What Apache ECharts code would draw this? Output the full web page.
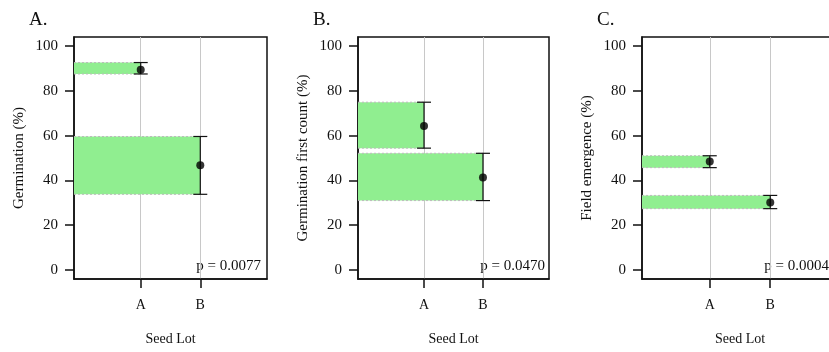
<!DOCTYPE html>
<html>
<head>
<meta charset="utf-8">
<script src="https://cdn.jsdelivr.net/npm/echarts@6/dist/echarts.min.js"></script>
<style>
  html, body { margin: 0; padding: 0; background: #fff; }
  #main { width: 829px; height: 352px; }
</style>
</head>
<body>
<div id="main"></div>
<script>
// seed lots and their x positions
const seedLots = ['A', 'B'];
const lotPos = [1, 2];
const yTicks = [0, 20, 40, 60, 80, 100];

// A. germination
const germMean = [89.4, 46.8];
const germLo = [87.5, 33.8];
const germHi = [92.6, 59.6];
// B. germination first count
const firstMean = [64.3, 41.3];
const firstLo = [54.4, 31.0];
const firstHi = [74.9, 52.1];
// C. field emergence
const fieldMean = [48.4, 30.1];
const fieldLo = [45.7, 27.4];
const fieldHi = [51.0, 33.3];

const panelTitles = ['A.', 'B.', 'C.'];
const yNames = ['Germination (%)', 'Germination first count (%)', 'Field emergence (%)'];
const pTexts = ['p = 0.0077', 'p = 0.0470', 'p = 0.0004'];

const X_MIN = -0.12, X_MAX = 3.12, Y_MIN = -4, Y_MAX = 104;
const FONT = 'Liberation Serif';
const INK = '#111';

const chart = echarts.init(document.getElementById('main'));

const grids = [
    { left: 74, top: 37, width: 193, height: 242 },
    { left: 358, top: 37, width: 191, height: 242 },
    { left: 642, top: 37, width: 196, height: 242 }
];

const panels = [
    { mean: germMean, lo: germLo, hi: germHi },
    { mean: firstMean, lo: firstLo, hi: firstHi },
    { mean: fieldMean, lo: fieldLo, hi: fieldHi }
];

// green band from the left edge of the box to the lot position
function bandRender(params, api) {
    const p1 = api.coord([X_MIN, api.value(2)]);
    const p2 = api.coord([api.value(0), api.value(1)]);
    const dash = { stroke: '#bbbbbb', lineWidth: 1, lineDash: [2, 2] };
    return {
        type: 'group',
        children: [
            { type: 'rect', shape: { x: p1[0], y: p1[1], width: p2[0] - p1[0], height: p2[1] - p1[1] },
              style: { fill: '#90ee90' } },
            { type: 'line', shape: { x1: p1[0], y1: p1[1], x2: p2[0], y2: p1[1] }, style: dash },
            { type: 'line', shape: { x1: p1[0], y1: p2[1], x2: p2[0], y2: p2[1] }, style: dash }
        ]
    };
}

// error bar with caps
function errRender(params, api) {
    const top = api.coord([api.value(0), api.value(2)]);
    const bot = api.coord([api.value(0), api.value(1)]);
    const w = 7;
    const st = { stroke: INK, lineWidth: 1.2 };
    return {
        type: 'group',
        children: [
            { type: 'line', shape: { x1: top[0], y1: top[1], x2: bot[0], y2: bot[1] }, style: st },
            { type: 'line', shape: { x1: top[0] - w, y1: top[1], x2: top[0] + w, y2: top[1] }, style: st },
            { type: 'line', shape: { x1: bot[0] - w, y1: bot[1], x2: bot[0] + w, y2: bot[1] }, style: st }
        ]
    };
}

const xAxes = [], yAxes = [], series = [], titles = [], texts = [];

grids.forEach((g, k) => {
    xAxes.push({
        gridIndex: k,
        type: 'value',
        min: X_MIN,
        max: X_MAX,
        name: 'Seed Lot',
        nameLocation: 'middle',
        nameGap: 53,
        nameTextStyle: { fontFamily: FONT, fontSize: 14, color: INK },
        axisLine: { show: true, onZero: false, lineStyle: { color: INK, width: 1.5 } },
        axisTick: { show: true, length: 9, customValues: lotPos, lineStyle: { color: INK, width: 1.5 } },
        axisLabel: {
            customValues: lotPos,
            margin: 19,
            fontFamily: FONT, fontSize: 14, color: INK,
            formatter: v => seedLots[lotPos.indexOf(v)] || ''
        },
        splitLine: { show: true, lineStyle: { color: '#c8c8c8', width: 1 } }
    });
    yAxes.push({
        gridIndex: k,
        type: 'value',
        min: Y_MIN,
        max: Y_MAX,
        name: yNames[k],
        nameLocation: 'middle',
        nameRotate: 90,
        nameGap: 47,
        nameTextStyle: { fontFamily: FONT, fontSize: 15, color: INK },
        axisLine: { show: true, onZero: false, lineStyle: { color: INK, width: 1.5 } },
        axisTick: { show: true, length: 9, customValues: yTicks, lineStyle: { color: INK, width: 1.5 } },
        axisLabel: { customValues: yTicks, margin: 16, fontFamily: FONT, fontSize: 15, color: INK },
        splitLine: { show: false }
    });
    const p = panels[k];
    series.push({
        type: 'custom', xAxisIndex: k, yAxisIndex: k, silent: true,
        renderItem: bandRender,
        data: lotPos.map((x, i) => [x, p.lo[i], p.hi[i]])
    });
    series.push({
        type: 'custom', xAxisIndex: k, yAxisIndex: k, silent: true, z: 3,
        renderItem: errRender,
        data: lotPos.map((x, i) => [x, p.lo[i], p.hi[i]])
    });
    series.push({
        type: 'scatter', xAxisIndex: k, yAxisIndex: k, silent: true, z: 4,
        symbol: 'circle', symbolSize: 8,
        itemStyle: { color: '#000' },
        data: lotPos.map((x, i) => [x, p.mean[i]])
    });
    titles.push({
        text: panelTitles[k],
        left: g.left - 50,
        top: 6,
        textStyle: { fontFamily: FONT, fontSize: 19, fontWeight: 'normal', color: INK }
    });
    texts.push({
        type: 'text',
        right: 829 - (g.left + 187),
        top: 259,
        style: { text: pTexts[k], font: '15px "Liberation Serif"', fill: INK }
    });
});

chart.setOption({
    animation: false,
    backgroundColor: '#fff',
    title: titles,
    grid: grids.map(g => Object.assign({
        show: true, borderColor: INK, borderWidth: 1.5, containLabel: false, outerBoundsMode: 'none'
    }, g)),
    xAxis: xAxes,
    yAxis: yAxes,
    series: series,
    graphic: texts
});
</script>
</body>
</html>
